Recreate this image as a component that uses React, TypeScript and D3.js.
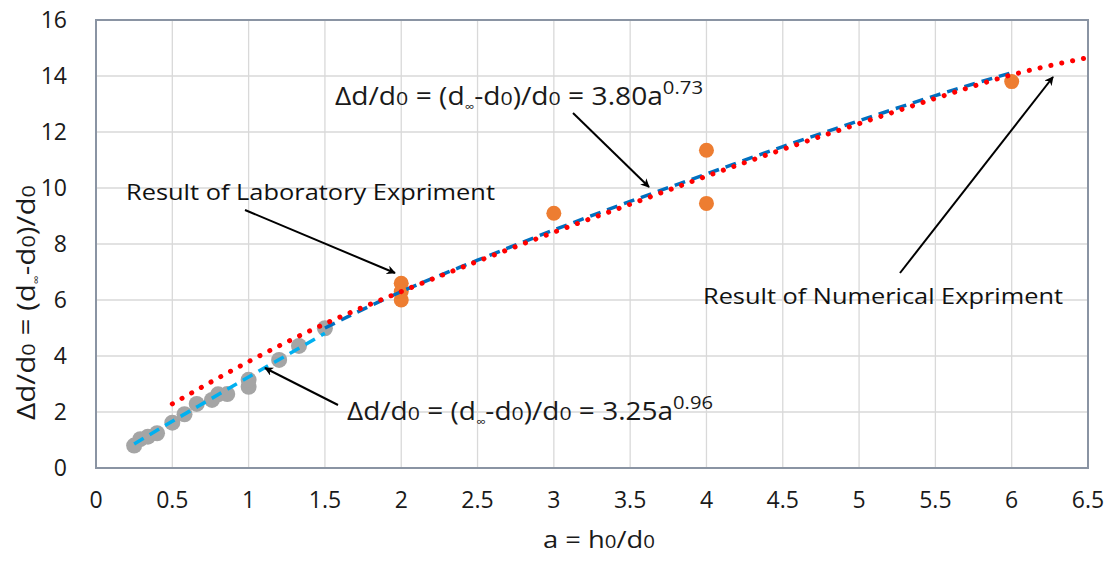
import React, { useEffect, useRef } from 'react';
import * as d3 from 'd3';

const width = 1118;
const height = 567;
const margin = { top: 20, right: 30, bottom: 99, left: 96 };

const xTicks = [0, 0.5, 1, 1.5, 2, 2.5, 3, 3.5, 4, 4.5, 5, 5.5, 6, 6.5];
const yTicks = [0, 2, 4, 6, 8, 10, 12, 14, 16];

// numerical experiment (gray)
const numA = [0.25, 0.29, 0.34, 0.4, 0.5, 0.58, 0.66, 0.76, 0.8, 0.86, 1.0, 1.0, 1.2, 1.33, 1.5];
const numY = [0.8, 1.03, 1.12, 1.24, 1.62, 1.92, 2.29, 2.43, 2.63, 2.64, 2.9, 3.15, 3.86, 4.36, 4.99];

// laboratory experiment (orange)
const labA = [2, 2, 2, 3, 4, 4, 6];
const labY = [6.6, 6.3, 6.0, 9.1, 11.35, 9.45, 13.8];

// trend curves
const lowA = [0.25, 0.5, 0.75, 1, 1.25, 1.5];
const lowY = [0.86, 1.67, 2.46, 3.25, 4.03, 4.81];
const highA = [1.5, 2, 2.5, 3, 3.5, 4, 4.5, 5, 5.5, 6];
const highY = [5.0, 6.3, 7.42, 8.5, 9.52, 10.5, 11.48, 12.4, 13.3, 14.12];
const redA = [0.5, 1, 1.5, 2, 2.5, 3, 3.5, 4, 4.5, 5, 5.5, 6, 6.5];
const redY = [2.29, 3.8, 5.15, 6.3, 7.38, 8.42, 9.42, 10.42, 11.38, 12.3, 13.2, 14.04, 14.66];

const font = '"Open Sans", Lato, sans-serif';

const App = () => {
  const svgRef = useRef<SVGSVGElement>(null);

  useEffect(() => {
    const svg = d3.select(svgRef.current);
    svg.selectAll('*').remove();

    const x = d3.scaleLinear().domain([0, 6.5]).range([margin.left, width - margin.right]);
    const y = d3.scaleLinear().domain([0, 16]).range([height - margin.bottom, margin.top]);

    const defs = svg.append('defs');
    defs.append('marker')
      .attr('id', 'arr')
      .attr('viewBox', '0 0 10 10')
      .attr('refX', 9).attr('refY', 5)
      .attr('markerWidth', 9).attr('markerHeight', 9)
      .attr('markerUnits', 'userSpaceOnUse')
      .attr('orient', 'auto')
      .append('path').attr('d', 'M0,0 L10,5 L0,10 L3,5 Z').attr('fill', '#000');

    // grid
    svg.append('g').selectAll('line').data(xTicks.slice(1, -1)).enter().append('line')
      .attr('x1', d => x(d)).attr('x2', d => x(d))
      .attr('y1', y(16)).attr('y2', y(0))
      .attr('stroke', '#d9d9d9').attr('stroke-width', 1.3);
    svg.append('g').selectAll('line').data(yTicks.slice(1, -1)).enter().append('line')
      .attr('x1', x(0)).attr('x2', x(6.5))
      .attr('y1', d => y(d)).attr('y2', d => y(d))
      .attr('stroke', '#d9d9d9').attr('stroke-width', 1.3);

    svg.append('rect')
      .attr('x', x(0)).attr('y', y(16))
      .attr('width', x(6.5) - x(0)).attr('height', y(0) - y(16))
      .attr('fill', 'none').attr('stroke', '#8a94a3').attr('stroke-width', 2);

    // tick labels
    svg.append('g').selectAll('text').data(xTicks).enter().append('text')
      .attr('x', d => x(d)).attr('y', 508)
      .attr('text-anchor', 'middle')
      .attr('font-family', font).attr('font-size', 23).attr('fill', '#1a1a1a')
      .text(d => String(d));
    svg.append('g').selectAll('text').data(yTicks).enter().append('text')
      .attr('x', 67).attr('y', d => y(d) + 8)
      .attr('text-anchor', 'end')
      .attr('font-family', font).attr('font-size', 23).attr('fill', '#1a1a1a')
      .text(d => String(d));

    // markers
    svg.append('g').selectAll('circle').data(numA.map((a, i) => [a, numY[i]])).enter().append('circle')
      .attr('cx', d => x(d[0])).attr('cy', d => y(d[1])).attr('r', 8)
      .attr('fill', '#a5a5a5');
    svg.append('g').selectAll('circle').data(labA.map((a, i) => [a, labY[i]])).enter().append('circle')
      .attr('cx', d => x(d[0])).attr('cy', d => y(d[1])).attr('r', 7.5)
      .attr('fill', '#ed7d31');

    const line = d3.line<number>()
      .curve(d3.curveMonotoneX);

    const draw = (as: number[], ys: number[], color: string, w: number, dash: string, cap: string) => {
      svg.append('path')
        .attr('d', line.x(a => x(a)).y((_, i) => y(ys[i]))(as))
        .attr('fill', 'none').attr('stroke', color).attr('stroke-width', w)
        .attr('stroke-dasharray', dash).attr('stroke-linecap', cap);
    };
    draw(lowA, lowY, '#00b0f0', 3.5, '11 7', 'butt');
    draw(highA, highY, '#0070c0', 3.5, '11 7', 'butt');
    draw(redA, redY, '#ff0000', 5, '0.1 11', 'round');

    // annotations
    const arrow = (x1: number, y1: number, x2: number, y2: number) => {
      svg.append('line')
        .attr('x1', x1).attr('y1', y1).attr('x2', x2).attr('y2', y2)
        .attr('stroke', '#000').attr('stroke-width', 2)
        .attr('marker-end', 'url(#arr)');
    };
    arrow(573, 113, 649, 187);
    arrow(245, 210, 395, 273);
    arrow(338, 405, 265, 368);
    arrow(900, 273, 1053, 77);

    const formula = (tx: number, ty: number, len: number, coef: string, expo: string) => {
      const t = svg.append('text')
        .attr('x', tx).attr('y', ty)
        .attr('textLength', len).attr('lengthAdjust', 'spacingAndGlyphs')
        .attr('font-family', font).attr('font-size', 25).attr('fill', '#1a1a1a');
      t.append('tspan').text('Δd/d');
      t.append('tspan').attr('font-size', 19).text('0');
      t.append('tspan').text(' = (d');
      t.append('tspan').attr('font-size', 12).attr('dy', 6).text('∞');
      t.append('tspan').attr('dy', -6).text('-d');
      t.append('tspan').attr('font-size', 19).text('0');
      t.append('tspan').text(')/d');
      t.append('tspan').attr('font-size', 19).text('0');
      t.append('tspan').text(' = ' + coef + 'a');
      t.append('tspan').attr('font-size', 18).attr('dy', -11).text(expo);
    };
    formula(335, 105, 368, '3.80', '0.73');
    formula(347, 420, 366, '3.25', '0.96');

    svg.append('text')
      .attr('x', 126).attr('y', 200)
      .attr('textLength', 369).attr('lengthAdjust', 'spacingAndGlyphs')
      .attr('font-family', font).attr('font-size', 22).attr('fill', '#111')
      .text('Result of Laboratory Expriment');
    svg.append('text')
      .attr('x', 703).attr('y', 304)
      .attr('textLength', 360).attr('lengthAdjust', 'spacingAndGlyphs')
      .attr('font-family', font).attr('font-size', 22).attr('fill', '#111')
      .text('Result of Numerical Expriment');

    // axis titles
    const xt = svg.append('text')
      .attr('x', 543).attr('y', 548)
      .attr('textLength', 112).attr('lengthAdjust', 'spacingAndGlyphs')
      .attr('font-family', font).attr('font-size', 24).attr('fill', '#1a1a1a');
    xt.append('tspan').text('a = h');
    xt.append('tspan').attr('font-size', 18).text('0');
    xt.append('tspan').text('/d');
    xt.append('tspan').attr('font-size', 18).text('0');

    const yt = svg.append('text')
      .attr('transform', 'translate(35,420) rotate(-90)')
      .attr('textLength', 235).attr('lengthAdjust', 'spacingAndGlyphs')
      .attr('font-family', font).attr('font-size', 26).attr('fill', '#1a1a1a');
    yt.append('tspan').text('Δd/d');
    yt.append('tspan').attr('font-size', 19).text('0');
    yt.append('tspan').text(' = (d');
    yt.append('tspan').attr('font-size', 11).attr('dy', 5).text('∞');
    yt.append('tspan').attr('dy', -5).text('-d');
    yt.append('tspan').attr('font-size', 19).text('0');
    yt.append('tspan').text(')/d');
    yt.append('tspan').attr('font-size', 19).text('0');
  }, []);

  return (
    <div style={{ position: 'absolute', left: 0, top: 0 }}>
      <svg ref={svgRef} width={width} height={height} style={{ display: 'block', background: '#fff' }}></svg>
    </div>
  );
};

export default App;
